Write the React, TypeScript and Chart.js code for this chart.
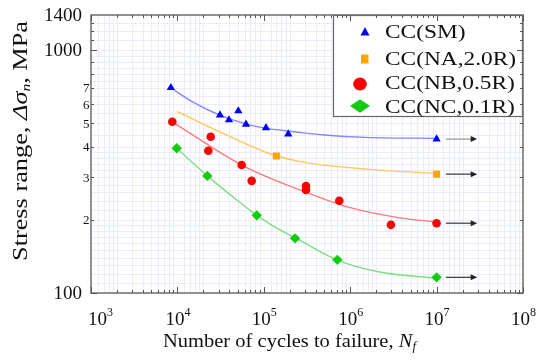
import React, { useEffect, useRef } from 'react';
import { Chart, registerables } from 'chart.js';

Chart.register(...registerables);

// ---- data ----
const seriesNames = ['CC(SM)', 'CC(NA,2.0R)', 'CC(NB,0.5R)', 'CC(NC,0.1R)'];

const smN = [8400, 31100, 39500, 50700, 62200, 106000, 192000, 1e7];
const smS = [702, 541, 517, 563, 496, 480, 452, 431];
const naN = [139700, 1e7];
const naS = [367, 309];
const nbN = [8730, 24300, 22800, 55400, 72400, 308000, 308000, 748000, 2.96e6, 1e7];
const nbS = [508, 441, 386, 337, 290, 276, 266, 240, 191, 194];
const ncN = [9820, 22200, 82800, 230000, 710000, 1e7];
const ncS = [395, 304, 209, 168, 137, 116];

// fitted curves
const smFitN = [8400, 15000, 31000, 63000, 108000, 250000, 500000, 1.5e6, 1e7];
const smFitS = [702, 614, 541, 497, 477, 460, 448, 438, 434];
const naFitN = [1e4, 37200, 118000, 262000, 1.55e6, 1e7];
const naFitS = [559, 448, 375, 348, 324, 311];
const nbFitN = [8730, 55400, 262000, 910000, 3.45e6, 1e7];
const nbFitS = [508, 337, 266, 227, 205, 196];
const ncFitN = [9820, 22200, 50000, 83000, 150000, 230000, 700000, 2.2e6, 1e7];
const ncFitS = [395, 304, 240, 209, 183, 169, 137, 122, 115];

// run-out arrows
const arrowFromN = 1.28e7;
const arrowToN = 2.95e7;

// ticks
const xTickValues = [1e3, 1e4, 1e5, 1e6, 1e7, 1e8];
const xTickExps = ['3', '4', '5', '6', '7', '8'];
const yTickValues = [100, 200, 300, 400, 500, 600, 700, 1000, 1400];
const yTickLabels = ['100', '2', '3', '4', '5', '6', '7', '1000', '1400'];

const SERIF = '"Liberation Serif", "Times New Roman", serif';
const pointColors = ['#0000ff', '#ffa500', '#ff0000', '#11cc11'];
const fitColors = ['#8585ff', '#ffc65e', '#ff7a7a', '#7fde7f'];
const pointStyles = ['triangle', 'rect', 'circle', 'rectRot'];
const pointRadii = [4.8, 5, 4.3, 5.2];

const zip = (a: number[], b: number[]) => a.map((v, i) => ({ x: v, y: b[i] }));

type Seg = { t: string; font: string; dy?: number };
function richWidth(ctx: CanvasRenderingContext2D, segs: Seg[]) {
  let w = 0;
  for (const s of segs) { ctx.font = s.font; w += ctx.measureText(s.t).width; }
  return w;
}
function drawRich(ctx: CanvasRenderingContext2D, segs: Seg[], x: number, y: number) {
  let cx = x;
  for (const s of segs) {
    ctx.font = s.font;
    ctx.fillText(s.t, cx, y + (s.dy || 0));
    cx += ctx.measureText(s.t).width;
  }
}

function xGridValues() {
  const out: number[] = [];
  const mults = [1.2, 1.4, 1.6, 1.8, 2, 3, 4, 5, 6, 7, 8, 9];
  for (let d = 1e3; d < 1e8; d *= 10) for (const m of mults) out.push(d * m);
  return out;
}
function yGridValues() {
  const out: number[] = [];
  for (let v = 110; v <= 200; v += 10) out.push(v);
  for (let v = 220; v <= 400; v += 20) out.push(v);
  for (let v = 450; v <= 1000; v += 50) out.push(v);
  for (let v = 1100; v < 1400; v += 100) out.push(v);
  return out;
}

const customPlugin = {
  id: 'custom',
  beforeDatasetsDraw(chart: any) {
    const { ctx, chartArea: a, scales } = chart;
    const x = scales.x, y = scales.y;
    ctx.save();
    ctx.fillStyle = '#ffffff';
    ctx.fillRect(0, 0, chart.width, chart.height);
    ctx.strokeStyle = '#eaecfa';
    ctx.lineWidth = 1;
    ctx.beginPath();
    for (const v of xGridValues()) {
      const p = Math.round(x.getPixelForValue(v)) + 0.5;
      ctx.moveTo(p, a.top); ctx.lineTo(p, a.bottom);
    }
    for (const v of yGridValues()) {
      const p = Math.round(y.getPixelForValue(v)) + 0.5;
      ctx.moveTo(a.left, p); ctx.lineTo(a.right, p);
    }
    ctx.stroke();
    ctx.restore();
  },
  afterDatasetsDraw(chart: any) {
    const { ctx, chartArea: a, scales } = chart;
    const x = scales.x, y = scales.y;
    ctx.save();

    // run-out arrows
    const lastS = [smS[smS.length - 1], naS[naS.length - 1], nbS[nbS.length - 1], ncS[ncS.length - 1]];
    lastS.forEach((s, i) => {
      const py = y.getPixelForValue(s);
      const x0 = x.getPixelForValue(arrowFromN);
      const x1 = x.getPixelForValue(arrowToN);
      ctx.strokeStyle = i === 0 ? '#9a9a9a' : '#444';
      ctx.lineWidth = 1.3;
      ctx.beginPath(); ctx.moveTo(x0, py); ctx.lineTo(x1 - 5, py); ctx.stroke();
      ctx.fillStyle = '#222';
      ctx.beginPath(); ctx.moveTo(x1, py); ctx.lineTo(x1 - 6.5, py - 3); ctx.lineTo(x1 - 6.5, py + 3); ctx.closePath(); ctx.fill();
    });

    // legend
    const lx0 = 333, ly0 = 15, lx1 = a.right, ly1 = 117;
    ctx.fillStyle = '#ffffff';
    ctx.fillRect(lx0, ly0, lx1 - lx0, ly1 - ly0);
    ctx.strokeStyle = '#666';
    ctx.lineWidth = 1.2;
    ctx.strokeRect(lx0 + 0.5, ly0 + 0.5, lx1 - lx0 - 1, ly1 - ly0 - 1);
    const markY = [31.5, 59, 84, 106];
    const baseY = [37.5, 64.5, 89, 112.5];
    ctx.fillStyle = pointColors[0];
    ctx.beginPath(); ctx.moveTo(365, markY[0] - 4.5); ctx.lineTo(369.5, markY[0] + 4); ctx.lineTo(360.5, markY[0] + 4); ctx.closePath(); ctx.fill();
    ctx.fillStyle = pointColors[1];
    ctx.fillRect(361, markY[1] - 4.5, 7.5, 9);
    ctx.fillStyle = pointColors[2];
    ctx.beginPath(); ctx.ellipse(360, markY[2], 6.8, 6.5, 0, 0, Math.PI * 2); ctx.fill();
    ctx.fillStyle = pointColors[3];
    ctx.beginPath(); ctx.moveTo(350, markY[3]); ctx.lineTo(360, markY[3] - 6.8); ctx.lineTo(370, markY[3]); ctx.lineTo(360, markY[3] + 6.8); ctx.closePath(); ctx.fill();
    ctx.fillStyle = '#111';
    ctx.textAlign = 'left';
    ctx.textBaseline = 'alphabetic';
    ctx.font = `19px ${SERIF}`;
    seriesNames.forEach((n, i) => {
      ctx.save();
      ctx.translate(385, baseY[i]);
      ctx.scale(1.23, 1);
      ctx.fillText(n, 0, 0);
      ctx.restore();
    });

    // plot border
    ctx.strokeStyle = '#6e6e6e';
    ctx.lineWidth = 1.5;
    ctx.strokeRect(a.left, a.top, a.right - a.left, a.bottom - a.top);

    // axis ticks (inward)
    ctx.strokeStyle = '#555';
    ctx.lineWidth = 1;
    ctx.beginPath();
    for (let d = 1e3; d <= 1e8; d *= 10) {
      const p = Math.round(x.getPixelForValue(d)) + 0.5;
      ctx.moveTo(p, a.bottom); ctx.lineTo(p, a.bottom - 6);
      ctx.moveTo(p, a.top); ctx.lineTo(p, a.top + 6);
      if (d < 1e8) for (let m = 2; m <= 9; m++) {
        const q = Math.round(x.getPixelForValue(d * m)) + 0.5;
        ctx.moveTo(q, a.bottom); ctx.lineTo(q, a.bottom - 3);
        ctx.moveTo(q, a.top); ctx.lineTo(q, a.top + 3);
      }
    }
    const yMajor = [100, 1000];
    const yMinor = [200, 300, 400, 500, 600, 700, 800, 900, 1100, 1200, 1300];
    for (const v of yMajor) {
      const p = Math.round(y.getPixelForValue(v)) + 0.5;
      ctx.moveTo(a.left, p); ctx.lineTo(a.left + 6, p);
      ctx.moveTo(a.right, p); ctx.lineTo(a.right - 6, p);
    }
    for (const v of yMinor) {
      const p = Math.round(y.getPixelForValue(v)) + 0.5;
      ctx.moveTo(a.left, p); ctx.lineTo(a.left + 3, p);
      ctx.moveTo(a.right, p); ctx.lineTo(a.right - 3, p);
    }
    ctx.stroke();

    // y tick labels
    ctx.fillStyle = '#111';
    ctx.textBaseline = 'middle';
    yTickValues.forEach((v, i) => {
      const p = y.getPixelForValue(v);
      const lbl = yTickLabels[i];
      ctx.textAlign = 'right';
      if (lbl.length === 1) {
        ctx.font = `13px ${SERIF}`;
        ctx.fillText(lbl, a.left - 1.5, p + 1);
      } else {
        ctx.font = `19px ${SERIF}`;
        ctx.fillText(lbl, a.left - 9, p + 1);
      }
    });

    // x tick labels 10^n
    ctx.textAlign = 'left';
    ctx.textBaseline = 'alphabetic';
    xTickValues.forEach((v, i) => {
      const p = x.getPixelForValue(v);
      let left = p - 12;
      if (i === 0) left = p - 3;
      drawRich(ctx, [
        { t: '10', font: `19px ${SERIF}` },
        { t: xTickExps[i], font: `12px ${SERIF}`, dy: -9 },
      ], left, 325);
    });

    // x title
    const xSegs: Seg[] = [
      { t: 'Number of cycles to failure, ', font: `19px ${SERIF}` },
      { t: 'N', font: `italic 19px ${SERIF}` },
      { t: 'f', font: `italic 12px ${SERIF}`, dy: 3 },
    ];
    const xw = richWidth(ctx, xSegs);
    ctx.save();
    ctx.translate(163, 346.5);
    ctx.scale(253 / xw, 1);
    drawRich(ctx, xSegs, 0, 0);
    ctx.restore();

    // y title
    const ySegs: Seg[] = [
      { t: 'Stress range, ', font: `22px ${SERIF}` },
      { t: 'Δσ', font: `italic 22px ${SERIF}` },
      { t: 'n', font: `italic 13px ${SERIF}`, dy: 3 },
      { t: ', MPa', font: `22px ${SERIF}` },
    ];
    const yw = richWidth(ctx, ySegs);
    ctx.save();
    ctx.translate(27, 261);
    ctx.rotate(-Math.PI / 2);
    ctx.scale(240 / yw, 1);
    drawRich(ctx, ySegs, 0, 0);
    ctx.restore();

    ctx.restore();
  },
};

export default function App() {
  const ref = useRef<HTMLCanvasElement | null>(null);
  useEffect(() => {
    if (!ref.current) return;
    const pointSets = [zip(smN, smS), zip(naN, naS), zip(nbN, nbS), zip(ncN, ncS)];
    const fitSets = [zip(smFitN, smFitS), zip(naFitN, naFitS), zip(nbFitN, nbFitS), zip(ncFitN, ncFitS)];
    const datasets: any[] = [];
    pointSets.forEach((d, i) => {
      datasets.push({
        type: 'scatter',
        label: seriesNames[i],
        data: d,
        pointStyle: pointStyles[i],
        pointRadius: pointRadii[i],
        pointBackgroundColor: pointColors[i],
        pointBorderColor: pointColors[i],
        pointBorderWidth: 0,
        showLine: false,
      });
    });
    fitSets.forEach((d, i) => {
      datasets.push({
        type: 'line',
        label: seriesNames[i] + ' fit',
        data: d,
        borderColor: fitColors[i],
        borderWidth: 1.4,
        pointRadius: 0,
        fill: false,
        cubicInterpolationMode: 'monotone',
      });
    });
    const chart = new Chart(ref.current, {
      type: 'scatter',
      data: { datasets },
      options: {
        animation: false,
        responsive: false,
        maintainAspectRatio: false,
        devicePixelRatio: 1,
        layout: { padding: { left: 91, top: 15, right: 14, bottom: 68 } },
        scales: {
          x: { type: 'logarithmic', min: 1e3, max: 1e8, display: false },
          y: { type: 'logarithmic', min: 100, max: 1400, display: false },
        },
        plugins: { legend: { display: false }, tooltip: { enabled: false } },
      } as any,
      plugins: [customPlugin as any],
    });
    return () => chart.destroy();
  }, []);
  return (
    <div style={{ position: 'fixed', left: 0, top: 0, width: 537, height: 361, background: '#fff' }}>
      <canvas ref={ref} width={537} height={361} style={{ display: 'block' }} />
    </div>
  );
}
